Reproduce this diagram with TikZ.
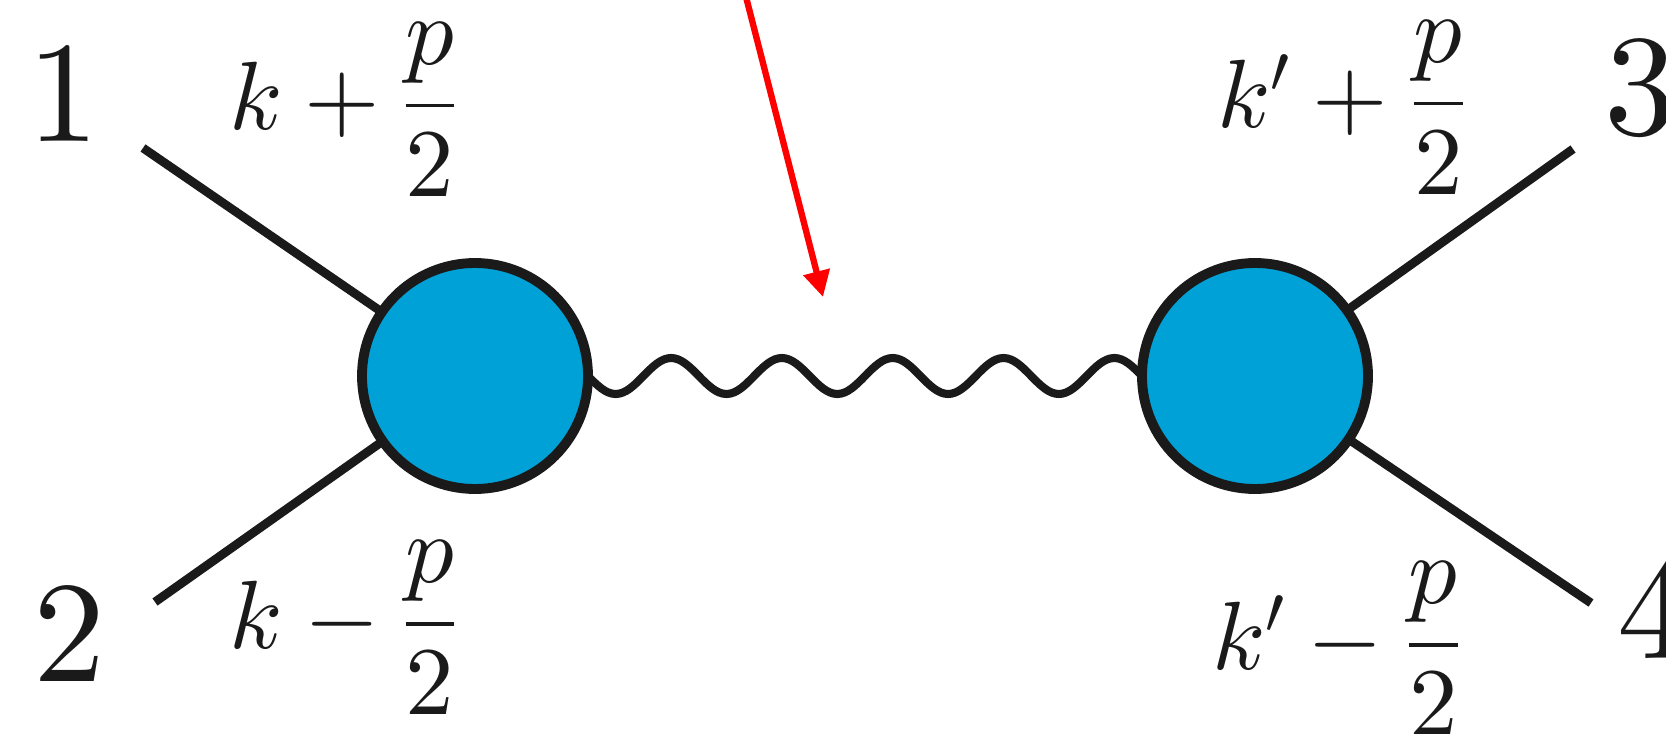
\RequirePackage{fix-cm}
\documentclass[tikz,border=0pt]{standalone}
\usepackage{amsmath}
\usetikzlibrary{arrows.meta}
\DeclareFontShape{OT1}{cmr}{m}{n}{<->cmr10}{}
\DeclareFontShape{OML}{cmm}{m}{it}{<->cmmi10}{}
\DeclareFontShape{OMS}{cmsy}{m}{n}{<->cmsy10}{}
\definecolor{blob}{RGB}{0,161,214}
\definecolor{ink}{RGB}{26,26,26}
\definecolor{arrowred}{RGB}{255,0,0}
\begin{document}
\begin{tikzpicture}[
  blobnode/.style={circle, draw=ink, fill=blob, line width=2.8pt, minimum size=2.26cm, inner sep=0pt, outer sep=0pt},
  leg/.style={draw=ink, line width=2.5pt},
  wave/.style={draw=ink, line width=2.3pt},
  digit/.style={font=\fontsize{41}{49}\selectfont, inner sep=0pt, anchor=base, text=ink},
  mom/.style={font=\fontsize{27.6}{33}\selectfont, inner sep=0pt, anchor=base, text=ink},
  pointer/.style={draw=arrowred, line width=1.8pt, -{Triangle[length=0.26cm,width=0.26cm]}}
]
\useasboundingbox (0,0) rectangle (16.66,7.33);
% vertices
\node[blobnode] (L) at (4.75,3.57) {};
\node[blobnode] (R) at (12.55,3.57) {};
% external leg ends
\coordinate (e1) at (1.43,5.85);
\coordinate (e2) at (1.55,1.31);
\coordinate (e3) at (15.73,5.84);
\coordinate (e4) at (15.91,1.30);
\draw[leg] (L) -- (e1);
\draw[leg] (L) -- (e2);
\draw[leg] (R) -- (e3);
\draw[leg] (R) -- (e4);
% wavy propagator
\draw[wave] (L.east)
  sin ++(0.277,-0.18) cos ++(0.277,0.18) sin ++(0.277,0.18) cos ++(0.277,-0.18)
  sin ++(0.277,-0.18) cos ++(0.277,0.18) sin ++(0.277,0.18) cos ++(0.277,-0.18)
  sin ++(0.277,-0.18) cos ++(0.277,0.18) sin ++(0.277,0.18) cos ++(0.277,-0.18)
  sin ++(0.277,-0.18) cos ++(0.277,0.18) sin ++(0.277,0.18) cos ++(0.277,-0.18)
  sin ++(0.277,-0.18) cos ++(0.277,0.18) sin ++(0.277,0.18) cos (R.west);
% particle labels
\node[digit] (n1) at (0.64,5.91) {$1$};
\node[digit] (n2) at (0.70,0.52) {$2$};
\node[digit] (n3) at (16.40,5.98) {$3$};
\node[digit] (n4) at (16.53,0.75) {$4$};
% momentum labels
\node[mom] (m1) at (3.44,6.03) {$k+\dfrac{p}{2}$};
\node[mom] (m2) at (3.44,0.85) {$k-\dfrac{p}{2}$};
\node[mom] (m3) at (13.42,6.05) {$k'+\dfrac{p}{2}$};
\node[mom] (m4) at (13.37,0.64) {$k'-\dfrac{p}{2}$};
% red pointer
\coordinate (a0) at (7.45,7.40);
\coordinate (a1) at (8.23,4.36);
\draw[pointer] (a0) -- (a1);
\end{tikzpicture}
\end{document}
